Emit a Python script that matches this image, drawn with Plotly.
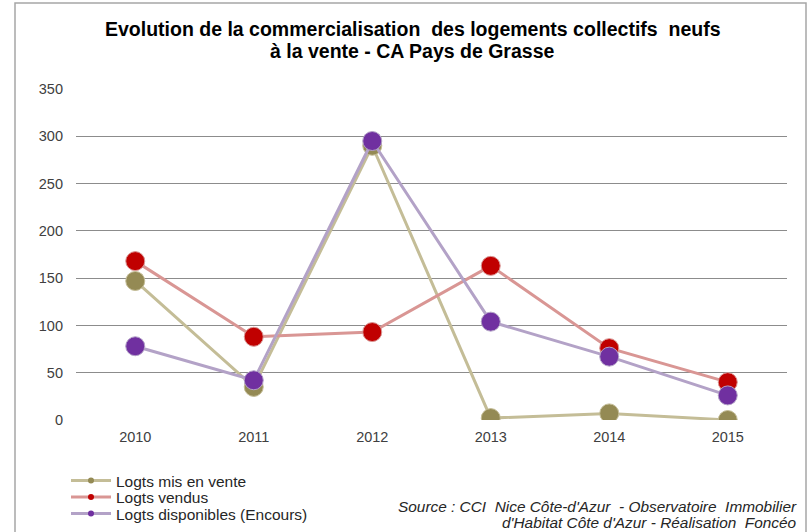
import plotly.graph_objects as go

# Données : commercialisation des logements collectifs neufs - CA Pays de Grasse
annees = ["2010", "2011", "2012", "2013", "2014", "2015"]
mis_en_vente = [147, 35, 290, 2, 7, 0]
vendus = [168, 88, 93, 163, 76, 40]
disponibles = [78, 42, 295, 104, 67, 26]
y_ticks = [0, 50, 100, 150, 200, 250, 300, 350]

series = [
    ("Logts mis en vente", mis_en_vente, "#948A54", "#C4BD97"),
    ("Logts vendus", vendus, "#C00000", "#D99694"),
    ("Logts disponibles (Encours)", disponibles, "#7030A0", "#B3A2C7"),
]

W, H = 809, 532
L, R, T, B = 76, 22, 89, 112
pw, ph = W - L - R, H - T - B


def px_x(x):
    return (x - L) / pw


def px_y(y):
    return (H - B - y) / ph


fig = go.Figure()

for nom, vals, c_marq, c_ligne in series:
    fig.add_trace(go.Scatter(
        x=annees, y=vals, mode="lines+markers", name=nom, showlegend=False,
        line=dict(color=c_ligne, width=3),
        marker=dict(color=c_marq, size=19, line=dict(color=c_ligne, width=1)),
    ))

# une légende par série, empilées en bas à gauche
legend_ids = ["legend", "legend2", "legend3"]
legend_rows = [481, 497.5, 514]
for (nom, vals, c_marq, c_ligne), lid in zip(series, legend_ids):
    fig.add_trace(go.Scatter(
        x=[None], y=[None], mode="lines+markers", name=nom, legend=lid,
        line=dict(color=c_ligne, width=3),
        marker=dict(color=c_marq, size=6),
    ))

legend_style = dict(
    xref="container", yref="container", xanchor="left", yanchor="middle",
    bgcolor="rgba(0,0,0,0)", font=dict(size=15.5, color="#262626"),
    itemwidth=40,
)
legends = {
    lid: dict(legend_style, x=66 / W, y=1 - row / H)
    for lid, row in zip(legend_ids, legend_rows)
}

fig.update_layout(
    width=W, height=H,
    margin=dict(l=L, r=R, t=T, b=B, autoexpand=False),
    paper_bgcolor="white", plot_bgcolor="white",
    font=dict(family="Liberation Sans, Arial, sans-serif", color="#404040", size=14.5),
    showlegend=True,
    **legends,
    xaxis=dict(
        type="category", range=[-0.5, 5.5], showgrid=False, zeroline=False,
        showline=False, ticks="", tickfont=dict(size=14.5, color="#404040"),
        ticklabelstandoff=6,
    ),
    yaxis=dict(
        range=[0, 350], tickvals=y_ticks, showgrid=True, gridcolor="#8C8C8C",
        gridwidth=1, zeroline=False, showline=False, ticks="",
        tickfont=dict(size=14.5, color="#404040"), ticklabelstandoff=12,
    ),
    shapes=[dict(
        type="rect", xref="paper", yref="paper",
        x0=px_x(15), x1=px_x(806), y0=px_y(545), y1=px_y(3),
        line=dict(color="#A6A6A6", width=1.5), layer="below",
    )],
    annotations=[
        dict(
            text="<b>Evolution de la commercialisation\u00a0 des logements collectifs\u00a0 neufs</b>",
            xref="paper", yref="paper", x=px_x(413), y=px_y(29),
            xanchor="center", yanchor="middle", showarrow=False,
            font=dict(size=19.5, color="#000000"),
        ),
        dict(
            text="<b>à la vente - CA Pays de Grasse</b>",
            xref="paper", yref="paper", x=px_x(412), y=px_y(51),
            xanchor="center", yanchor="middle", showarrow=False,
            font=dict(size=19.5, color="#000000"),
        ),
        dict(
            text="<i>Source : CCI\u00a0 Nice Côte-d'Azur\u00a0 - Observatoire\u00a0 Immobilier</i>",
            xref="paper", yref="paper", x=px_x(799), y=px_y(506),
            xanchor="right", yanchor="middle", showarrow=False,
            font=dict(size=15.4, color="#262626"),
        ),
        dict(
            text="<i>d'Habitat Côte d'Azur - Réalisation\u00a0 Foncéo</i>",
            xref="paper", yref="paper", x=px_x(799), y=px_y(522),
            xanchor="right", yanchor="middle", showarrow=False,
            font=dict(size=15.4, color="#262626"),
        ),
    ],
)

fig.write_html("out.html")
